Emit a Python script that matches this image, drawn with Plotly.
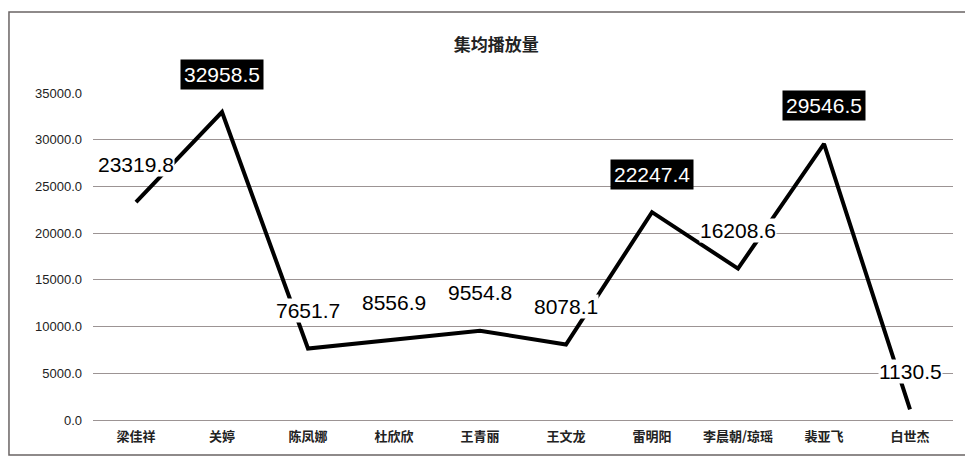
import plotly.graph_objects as go

categories = ["梁佳祥", "关婷", "陈凤娜", "杜欣欣", "王青丽", "王文龙", "雷明阳", "李晨朝/琼瑶", "裴亚飞", "白世杰"]
values = [23319.8, 32958.5, 7651.7, 8556.9, 9554.8, 8078.1, 22247.4, 16208.6, 29546.5, 1130.5]
highlighted = [False, True, False, False, False, False, True, False, True, False]
title_text = "集均播放量"

fig = go.Figure()
fig.add_trace(go.Scatter(
    x=categories, y=values, mode="lines",
    line=dict(color="black", width=4),
    hoverinfo="skip", showlegend=False,
))

for c, v, h in zip(categories, values, highlighted):
    fig.add_annotation(
        x=c, y=v, text=f"{v:.1f}", showarrow=False, yshift=38,
        font=dict(family="Liberation Sans, Arial", size=21, color="white" if h else "black"),
        bgcolor="black" if h else "white",
        borderpad=3 if h else 0,
    )

fig.add_shape(type="rect", xref="paper", yref="paper",
              x0=-0.0977, x1=1.2, y0=-0.107, y1=1.2477,
              line=dict(color="#6a6464", width=1.5), layer="below")

fig.update_layout(
    width=965, height=454,
    margin=dict(l=85, r=20, t=85, b=42),
    paper_bgcolor="white", plot_bgcolor="white",
    title=dict(text=title_text, x=0.506, xanchor="center", y=1 - 37 / 454, yanchor="middle",
               font=dict(family="Noto Sans CJK SC", size=17, color="#222", weight="bold")),
    xaxis=dict(range=[-0.5, 9.5], showgrid=False, showline=False, ticks="", ticklabelstandoff=7,
               tickfont=dict(family="Noto Sans CJK SC", size=13, color="#222", weight="bold")),
    yaxis=dict(range=[0, 35000], dtick=5000, tickformat=".1f",
               showgrid=True, gridcolor="#9c9494", gridwidth=1,
               zeroline=True, zerolinecolor="#9c9494", zerolinewidth=1,
               showline=False, ticks="", ticklabelstandoff=10,
               tickfont=dict(family="Liberation Sans, Arial", size=13, color="#222")),
)

fig.write_html("out.html")
